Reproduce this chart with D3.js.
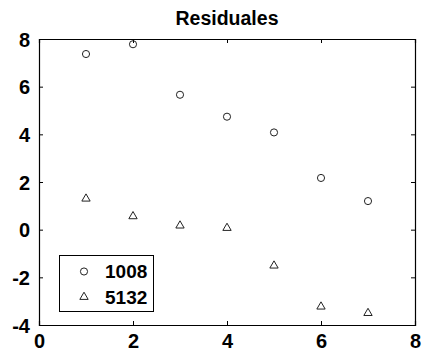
<!DOCTYPE html>
<html>
<head>
<meta charset="utf-8">
<script src="https://cdn.jsdelivr.net/npm/d3@7/dist/d3.min.js"></script>
<style>
  html, body { margin: 0; padding: 0; background: #fff; }
  svg { display: block; }
  .tick text { font-family: "Liberation Sans", Arial, sans-serif; font-weight: bold; }
</style>
</head>
<body>
<svg id="chart" width="424" height="356"></svg>
<script>
// Residual values per observation index
const xValues = [1, 2, 3, 4, 5, 6, 7];
const series1008 = [7.37, 7.78, 5.66, 4.74, 4.08, 2.17, 1.20];
const series5132 = [1.30, 0.56, 0.17, 0.07, -1.51, -3.23, -3.50];
const seriesNames = ["1008", "5132"];
const xTicks = [0, 2, 4, 6, 8];
const yTicks = [-4, -2, 0, 2, 4, 6, 8];
const titleText = "Residuales";

const W = 424, H = 356;
const margin = { left: 39, right: 9, top: 39, bottom: 31 };
const svg = d3.select("#chart");

const x = d3.scaleLinear().domain([0, 8]).range([margin.left, W - margin.right]);
const y = d3.scaleLinear().domain([-4, 8]).range([H - margin.bottom, margin.top]);

const font = '"Liberation Sans", Arial, sans-serif';
const plainLabel = d => String(d); // ASCII hyphen for negatives

// plot background
svg.append("rect")
  .attr("x", x(0)).attr("y", y(8))
  .attr("width", x(8) - x(0)).attr("height", y(-4) - y(8))
  .attr("fill", "#fff");

// bottom axis with inward ticks
const gx = svg.append("g")
  .attr("transform", `translate(0,${y(-4)})`)
  .call(d3.axisBottom(x).tickValues(xTicks).tickSize(-4).tickPadding(8).tickFormat(plainLabel));
gx.selectAll("text").attr("font-size", 20).attr("dy", "0.71em").attr("y", 9);

// left axis with inward ticks
const gy = svg.append("g")
  .attr("transform", `translate(${x(0)},0)`)
  .call(d3.axisLeft(y).tickValues(yTicks).tickSize(-4).tickPadding(9).tickFormat(plainLabel));
gy.selectAll("text").attr("font-size", 20).attr("dy", "0.36em");

// mirrored top and right axes (ticks only)
svg.append("g")
  .attr("transform", `translate(0,${y(8)})`)
  .call(d3.axisTop(x).tickValues(xTicks).tickSize(-4).tickFormat(""));
svg.append("g")
  .attr("transform", `translate(${x(8)},0)`)
  .call(d3.axisRight(y).tickValues(yTicks).tickSize(-4).tickFormat(""));

svg.selectAll(".domain").attr("stroke", "#000").attr("stroke-width", 1.2);
svg.selectAll(".tick line").attr("stroke", "#000");

// title
svg.append("text")
  .attr("x", (x(0) + x(8)) / 2)
  .attr("y", 25)
  .attr("text-anchor", "middle")
  .attr("font-family", font)
  .attr("font-weight", "bold")
  .attr("font-size", 19.5)
  .text(titleText);

const circleSym = d3.symbol().type(d3.symbolCircle).size(40);
const triSym = d3.symbol().type(d3.symbolTriangle).size(30);
const markColor = "#222";

// series 1008: open circles
svg.append("g").selectAll("path")
  .data(xValues.map((d, i) => [d, series1008[i]]))
  .join("path")
  .attr("d", circleSym)
  .attr("transform", d => `translate(${x(d[0])},${y(d[1])})`)
  .attr("fill", "none").attr("stroke", markColor).attr("stroke-width", 1);

// series 5132: open triangles
svg.append("g").selectAll("path")
  .data(xValues.map((d, i) => [d, series5132[i]]))
  .join("path")
  .attr("d", triSym)
  .attr("transform", d => `translate(${x(d[0])},${y(d[1])})`)
  .attr("fill", "none").attr("stroke", markColor).attr("stroke-width", 1);

// legend
const legend = svg.append("g");
legend.append("rect")
  .attr("x", 59.5).attr("y", 255.5).attr("width", 94).attr("height", 56)
  .attr("fill", "#fff").attr("stroke", "#000").attr("stroke-width", 1);
const legSyms = [circleSym, triSym];
seriesNames.forEach((name, i) => {
  const cy = 271.5 + i * 25.5;
  legend.append("path")
    .attr("d", legSyms[i])
    .attr("transform", `translate(84,${cy})`)
    .attr("fill", "none").attr("stroke", markColor).attr("stroke-width", 1);
  legend.append("text")
    .attr("x", 105).attr("y", cy).attr("dy", "0.36em")
    .attr("font-family", font).attr("font-weight", "bold").attr("font-size", 19)
    .text(name);
});
</script>
</body>
</html>
